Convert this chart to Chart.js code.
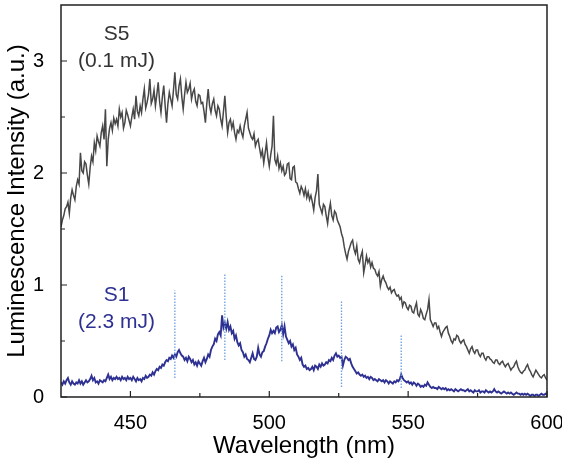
<!DOCTYPE html>
<html>
<head>
<meta charset="utf-8">
<script src="https://cdn.jsdelivr.net/npm/chart.js@4.4.1/dist/chart.umd.min.js"></script>
<style>
  html, body { margin: 0; padding: 0; background: #fff; }
  #wrap { position: relative; width: 562px; height: 461px; }
</style>
</head>
<body>
<div id="wrap"><canvas id="chart"></canvas></div>
<script>
// wavelength grid: 425 nm to 600 nm, one sample every 0.5 nm
const WL_START = 425;
const WL_STEP = 0.5;

// S5 (0.1 mJ) luminescence
const s5 = [
  1.52, 1.58, 1.62, 1.68, 1.70, 1.74, 1.64, 1.78, 1.85, 1.80,
  1.76, 1.88, 1.94, 1.90, 2.18, 2.02, 2.00, 2.10, 2.08, 1.98,
  1.90, 2.05, 2.15, 2.10, 2.27, 2.20, 2.33, 2.28, 2.24, 2.36,
  2.42, 2.30, 2.57, 2.06, 2.30, 2.40, 2.45, 2.38, 2.49, 2.44,
  2.48, 2.42, 2.57, 2.50, 2.54, 2.40, 2.45, 2.56, 2.52, 2.47,
  2.42, 2.50, 2.57, 2.48, 2.69, 2.55, 2.51, 2.60, 2.54, 2.66,
  2.75, 2.58, 2.63, 2.70, 2.84, 2.62, 2.66, 2.74, 2.60, 2.70,
  2.81, 2.64, 2.54, 2.68, 2.78, 2.60, 2.45, 2.62, 2.72, 2.66,
  2.60, 2.74, 2.90, 2.70, 2.66, 2.78, 2.84, 2.68, 2.57, 2.70,
  2.81, 2.72, 2.75, 2.80, 2.66, 2.72, 2.75, 2.64, 2.60, 2.70,
  2.69, 2.62, 2.63, 2.55, 2.45, 2.62, 2.75, 2.60, 2.54, 2.62,
  2.66, 2.56, 2.51, 2.60, 2.57, 2.48, 2.42, 2.55, 2.69, 2.50,
  2.36, 2.45, 2.48, 2.40, 2.45, 2.36, 2.30, 2.38, 2.36, 2.42,
  2.36, 2.32, 2.42, 2.48, 2.54, 2.40, 2.36, 2.32, 2.30, 2.35,
  2.24, 2.28, 2.30, 2.22, 2.15, 2.20, 2.09, 2.18, 2.27, 2.14,
  2.06, 2.16, 2.24, 2.51, 2.12, 2.08, 2.15, 2.04, 2.09, 2.02,
  2.06, 1.98, 2.00, 2.08, 2.09, 1.95, 1.94, 2.05, 2.06, 1.92,
  1.91, 1.86, 1.82, 1.88, 1.85, 1.80, 1.86, 1.78, 1.83, 1.76,
  1.80, 1.74, 1.67, 1.78, 1.84, 1.99, 1.72, 1.68, 1.64, 1.72,
  1.70, 1.62, 1.55, 1.66, 1.73, 1.62, 1.58, 1.66, 1.64, 1.58,
  1.55, 1.52, 1.46, 1.42, 1.34, 1.28, 1.23, 1.30, 1.34, 1.38,
  1.40, 1.32, 1.28, 1.35, 1.23, 1.20, 1.26, 1.30, 1.11, 1.18,
  1.26, 1.20, 1.23, 1.16, 1.20, 1.15, 1.14, 1.10, 1.08, 1.12,
  0.99, 1.05, 1.08, 1.04, 1.02, 0.98, 0.96, 0.98, 0.93, 0.95,
  0.96, 0.92, 0.90, 0.91, 0.87, 0.89, 0.81, 0.85, 0.84, 0.80,
  0.78, 0.82, 0.81, 0.76, 0.75, 0.80, 0.84, 0.74, 0.72, 0.78,
  0.75, 0.70, 0.69, 0.74, 0.78, 0.87, 0.69, 0.66, 0.63, 0.66,
  0.66, 0.61, 0.63, 0.58, 0.54, 0.58, 0.60, 0.62, 0.63, 0.57,
  0.54, 0.50, 0.48, 0.52, 0.51, 0.55, 0.54, 0.50, 0.48, 0.50,
  0.51, 0.47, 0.45, 0.42, 0.39, 0.43, 0.45, 0.41, 0.39, 0.42,
  0.42, 0.38, 0.36, 0.39, 0.39, 0.35, 0.33, 0.36, 0.36, 0.34,
  0.33, 0.31, 0.30, 0.33, 0.33, 0.30, 0.29, 0.31, 0.32, 0.29,
  0.27, 0.29, 0.30, 0.27, 0.24, 0.26, 0.27, 0.30, 0.32, 0.27,
  0.24, 0.22, 0.21, 0.23, 0.24, 0.27, 0.29, 0.25, 0.23, 0.20,
  0.18, 0.21, 0.24, 0.22, 0.20, 0.18, 0.17, 0.19, 0.20, 0.17,
  0.15
];

// S1 (2.3 mJ) luminescence
const s1 = [
  0.13, 0.11, 0.14, 0.12, 0.15, 0.17, 0.13, 0.11, 0.14, 0.12,
  0.11, 0.13, 0.12, 0.15, 0.12, 0.14, 0.11, 0.13, 0.15, 0.13,
  0.14, 0.16, 0.19, 0.15, 0.17, 0.13, 0.14, 0.12, 0.15, 0.14,
  0.13, 0.15, 0.14, 0.17, 0.20, 0.16, 0.18, 0.15, 0.17, 0.16,
  0.18, 0.16, 0.17, 0.15, 0.18, 0.16, 0.17, 0.15, 0.18, 0.16,
  0.17, 0.15, 0.18, 0.16, 0.14, 0.17, 0.15, 0.16, 0.14, 0.17,
  0.16, 0.19, 0.17, 0.18, 0.20, 0.19, 0.22, 0.20, 0.23, 0.25,
  0.24, 0.27, 0.26, 0.29, 0.28, 0.31, 0.33, 0.32, 0.35, 0.34,
  0.37, 0.35, 0.38, 0.36, 0.40, 0.42, 0.39, 0.37, 0.36, 0.33,
  0.35, 0.32, 0.36, 0.34, 0.31, 0.33, 0.29, 0.31, 0.28, 0.32,
  0.30, 0.28, 0.32, 0.35, 0.31, 0.34, 0.38, 0.36, 0.42, 0.45,
  0.47, 0.52, 0.50, 0.56, 0.58, 0.55, 0.73, 0.62, 0.66, 0.61,
  0.67, 0.60, 0.63, 0.57, 0.59, 0.52, 0.55, 0.49, 0.46, 0.48,
  0.42, 0.40, 0.36, 0.38, 0.34, 0.33, 0.31, 0.35, 0.39, 0.34,
  0.33, 0.36, 0.44, 0.38, 0.36, 0.40, 0.41, 0.45, 0.48, 0.52,
  0.55, 0.60, 0.57, 0.59, 0.57, 0.62, 0.63, 0.58, 0.60, 0.64,
  0.56, 0.63, 0.54, 0.51, 0.48, 0.50, 0.45, 0.47, 0.42, 0.44,
  0.38, 0.36, 0.33, 0.35, 0.29, 0.27, 0.28, 0.25, 0.26, 0.24,
  0.25, 0.27, 0.24, 0.28, 0.27, 0.25, 0.29, 0.27, 0.30, 0.28,
  0.29, 0.31, 0.30, 0.33, 0.32, 0.35, 0.33, 0.37, 0.39, 0.36,
  0.37, 0.35, 0.36, 0.28, 0.33, 0.36, 0.35, 0.33, 0.34, 0.30,
  0.27, 0.25, 0.23, 0.21, 0.22, 0.20, 0.19, 0.20, 0.18, 0.19,
  0.17, 0.18, 0.16, 0.18, 0.17, 0.15, 0.16, 0.15, 0.14, 0.16,
  0.15, 0.14, 0.15, 0.13, 0.15, 0.14, 0.12, 0.14, 0.13, 0.12,
  0.14, 0.13, 0.15, 0.14, 0.16, 0.20, 0.17, 0.15, 0.14, 0.13,
  0.14, 0.12, 0.13, 0.11, 0.13, 0.12, 0.10, 0.12, 0.11, 0.09,
  0.10, 0.09, 0.11, 0.10, 0.13, 0.11, 0.09, 0.08, 0.09, 0.08,
  0.08, 0.07, 0.09, 0.08, 0.07, 0.08, 0.07, 0.08, 0.06, 0.07,
  0.06, 0.07, 0.06, 0.05, 0.07, 0.06, 0.05, 0.06, 0.07, 0.06,
  0.06, 0.05, 0.06, 0.07, 0.05, 0.06, 0.05, 0.04, 0.06, 0.05,
  0.05, 0.06, 0.04, 0.05, 0.05, 0.04, 0.06, 0.05, 0.04, 0.05,
  0.04, 0.05, 0.07, 0.05, 0.04, 0.05, 0.04, 0.03, 0.04, 0.05,
  0.04, 0.03, 0.04, 0.03, 0.04, 0.03, 0.02, 0.03, 0.04, 0.03,
  0.03, 0.02, 0.03, 0.02, 0.03, 0.02, 0.03, 0.02, 0.01, 0.02,
  0.02, 0.01, 0.02, 0.02, 0.01, 0.02, 0.03, 0.02, 0.02, 0.03,
  0.02
];

// dotted peak markers on the S1 spectrum
const markerWl = [466, 484, 504.5, 526, 547.5];
const markerTop = [0.95, 1.10, 1.09, 0.86, 0.55];
const markerBottom = [0.17, 0.33, 0.32, 0.09, 0.08];

const xTickLabels = [450, 500, 550, 600];
const xMinorTicks = [475, 525, 575];
const yTickLabels = [0, 1, 2, 3];
const yMinorTicks = [0.5, 1.5, 2.5];

// curve labels: [text, wavelength, intensity]
const labelS5 = [["S5", 445, 3.24], ["(0.1 mJ)", 445, 3.0]];
const labelS1 = [["S1", 445, 0.91], ["(2.3 mJ)", 445, 0.67]];

const GRAY = "#474747";
const BLUE = "#2e3192";
const DOT = "#6a9ee0";
const FONT = "'Liberation Sans', Arial, sans-serif";

function toPoints(values) {
  return values.map((v, i) => ({ x: WL_START + i * WL_STEP, y: v }));
}

const datasets = [
  {
    label: "S5",
    data: toPoints(s5),
    borderColor: GRAY,
    borderWidth: 1.5,
    order: 2,
  },
  {
    label: "S1",
    data: toPoints(s1),
    borderColor: BLUE,
    borderWidth: 1.9,
    order: 1,
  },
];
markerWl.forEach((w, i) => {
  datasets.push({
    label: "peak" + i,
    data: [{ x: w, y: markerBottom[i] }, { x: w, y: markerTop[i] }],
    borderColor: DOT,
    borderWidth: 1.3,
    borderDash: [1.5, 1.5],
    order: 0,
  });
});

// frame, inward tick marks and curve labels
const decorations = {
  id: "decorations",
  afterDatasetsDraw(chart) {
    const { ctx, chartArea: a, scales } = chart;
    const xs = scales.x;
    const ys = scales.y;
    ctx.save();
    ctx.strokeStyle = "#222";
    ctx.lineWidth = 1.5;
    ctx.beginPath();
    ctx.rect(a.left, a.top, a.right - a.left, a.bottom - a.top);
    ctx.stroke();

    ctx.lineWidth = 1.2;
    ctx.beginPath();
    xTickLabels.forEach((v) => {
      const px = xs.getPixelForValue(v);
      ctx.moveTo(px, a.bottom);
      ctx.lineTo(px, a.bottom - 6);
    });
    xMinorTicks.forEach((v) => {
      const px = xs.getPixelForValue(v);
      ctx.moveTo(px, a.bottom);
      ctx.lineTo(px, a.bottom - 4);
    });
    yTickLabels.forEach((v) => {
      const py = ys.getPixelForValue(v);
      ctx.moveTo(a.left, py);
      ctx.lineTo(a.left + 6, py);
    });
    yMinorTicks.forEach((v) => {
      const py = ys.getPixelForValue(v);
      ctx.moveTo(a.left, py);
      ctx.lineTo(a.left + 4, py);
    });
    ctx.stroke();

    ctx.font = "21px " + FONT;
    ctx.textAlign = "center";
    ctx.textBaseline = "middle";
    ctx.fillStyle = "#333";
    labelS5.forEach(([t, x, y]) => ctx.fillText(t, xs.getPixelForValue(x), ys.getPixelForValue(y)));
    ctx.fillStyle = BLUE;
    labelS1.forEach(([t, x, y]) => ctx.fillText(t, xs.getPixelForValue(x), ys.getPixelForValue(y)));
    ctx.restore();
  },
};

new Chart(document.getElementById("chart"), {
  type: "line",
  data: { datasets },
  options: {
    responsive: true,
    maintainAspectRatio: false,
    animation: false,
    layout: { padding: { top: 5, right: 15, left: 0, bottom: 0 } },
    elements: {
      point: { radius: 0 },
      line: { tension: 0, fill: false },
    },
    plugins: {
      legend: { display: false },
      tooltip: { enabled: false },
    },
    scales: {
      x: {
        type: "linear",
        min: 425,
        max: 600,
        grid: { display: false },
        border: { display: false },
        afterBuildTicks: (s) => { s.ticks = xTickLabels.map((v) => ({ value: v })); },
        afterFit: (s) => {
          s.height = 64;
          s.paddingLeft = 0;
          s.paddingRight = 0;
        },
        ticks: { color: "#000", padding: 6, font: { family: FONT, size: 20 } },
        title: {
          display: true,
          text: "Wavelength (nm)",
          color: "#000",
          padding: 0,
          font: { family: FONT, size: 24 },
        },
      },
      y: {
        min: 0,
        max: 3.5,
        grid: { display: false },
        border: { display: false },
        afterBuildTicks: (s) => { s.ticks = yTickLabels.map((v) => ({ value: v })); },
        afterFit: (s) => {
          s.width = 61;
          s.paddingTop = 0;
          s.paddingBottom = 0;
        },
        ticks: { color: "#000", padding: 9, font: { family: FONT, size: 20 } },
        title: {
          display: true,
          text: "Luminescence Intensity (a.u.)",
          color: "#000",
          padding: { top: 3, bottom: 0 },
          font: { family: FONT, size: 24 },
        },
      },
    },
  },
  plugins: [decorations],
});
</script>
</body>
</html>
